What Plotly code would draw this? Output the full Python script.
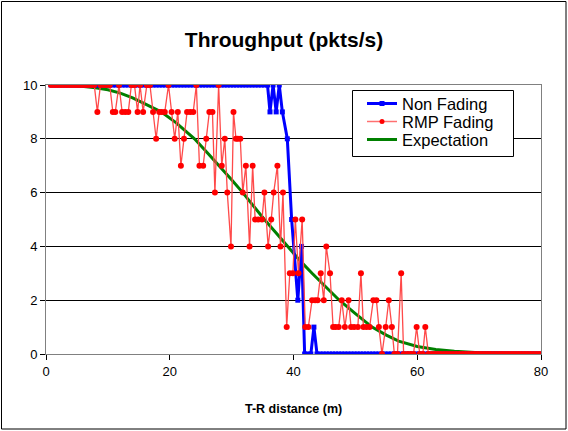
import plotly.graph_objects as go

# ---------------- data ----------------
nonfading_x = [0.8, 1.3, 1.8, 2.3, 2.8, 3.3, 3.8, 4.3, 4.8, 5.3, 5.8, 6.3, 6.8, 7.3, 7.8,
               8.3, 8.8, 9.3, 9.8, 10.3, 10.8, 11.3, 11.8, 12.3, 12.8, 13.3, 13.8, 14.3, 14.8, 15.3,
               15.8, 16.3, 16.8, 17.3, 17.8, 18.3, 18.8, 19.3, 19.8, 20.3, 20.8, 21.3, 21.8, 22.3,
               22.8, 23.3, 23.8, 24.3, 24.8, 25.3, 25.8, 26.3, 26.8, 27.3, 27.8, 28.3, 28.8, 29.3,
               29.8, 30.3, 30.8, 31.3, 31.8, 32.3, 32.8, 33.3, 33.8, 34.3, 34.8, 35.3, 35.8,
               36.2, 36.7, 37.2, 37.7, 38.2, 39.0, 39.7, 40.7, 41.3, 41.8, 42.3, 42.8, 43.3, 43.8,
               44.3, 44.8, 45.3, 45.8, 46.3, 46.8, 47.3, 47.8, 48.3, 48.8, 49.3, 49.8, 50.3, 50.8,
               51.3, 51.8, 52.3, 52.8, 53.3, 53.8, 54.3, 54.8, 55.3, 55.8, 56.3, 56.8, 57.3, 57.8,
               58.3, 58.8, 59.3, 59.8, 60.3, 60.8, 61.3, 61.8, 62.3, 62.8, 63.3, 63.8, 64.3, 64.8,
               65.3, 65.8, 66.3, 66.8, 67.3, 67.8, 68.3, 68.8, 69.3, 69.8, 70.3, 70.8, 71.3, 71.8,
               72.3, 72.8, 73.3, 73.8, 74.3, 74.8, 75.3, 75.8, 76.3, 76.8, 77.3, 77.8, 78.3, 78.8,
               79.3, 79.8]
nonfading_y = [10, 10, 10, 10, 10, 10, 10, 10, 10, 10, 10, 10, 10, 10, 10,
               10, 10, 10, 10, 10, 10, 10, 10, 10, 10, 10, 10, 10, 10, 10,
               10, 10, 10, 10, 10, 10, 10, 10, 10, 10, 10, 10, 10, 10,
               10, 10, 10, 10, 10, 10, 10, 10, 10, 10, 10, 10, 10, 10,
               10, 10, 10, 10, 10, 10, 10, 10, 10, 10, 10, 10, 10,
               9, 10, 9, 10, 9, 8, 5, 2, 4, 0, 0, 0, 1, 0,
               0, 0, 0, 0, 0, 0, 0, 0, 0, 0, 0, 0, 0, 0,
               0, 0, 0, 0, 0, 0, 0, 0, 0, 0, 0, 0, 0, 0,
               0, 0, 0, 0, 0, 0, 0, 0, 0, 0, 0, 0, 0, 0,
               0, 0, 0, 0, 0, 0, 0, 0, 0, 0, 0, 0, 0, 0,
               0, 0, 0, 0, 0, 0, 0, 0, 0, 0, 0, 0, 0, 0,
               0, 0]

rmp_x = [0.8, 1.3, 1.8, 2.3, 2.8, 3.3, 3.8, 4.3, 4.8, 5.3, 5.8, 6.3, 6.8, 7.3, 7.8,
         8.3, 8.8, 9.3, 9.8, 10.3, 10.8, 11.2, 11.8, 12.3, 12.8, 13.3, 13.8, 14.3, 14.8, 15.2, 15.7,
         16.3, 16.8, 17.3, 17.8, 18.3, 18.7, 19.2, 19.8, 20.3, 20.8, 21.3, 21.8, 22.3, 22.8, 23.3, 23.8,
         24.3, 24.8, 25.4, 25.9, 26.4, 26.9, 27.3, 27.9, 28.4, 28.9, 29.3, 29.9, 30.3, 30.7, 31.0, 31.4,
         31.8, 32.3, 32.9, 33.4, 33.8, 34.3, 34.9, 35.3, 35.9, 36.4, 36.8, 37.4, 37.9, 38.3, 38.9,
         39.4, 39.9, 40.3, 40.8, 41.4, 41.9, 42.4, 43.0, 43.5, 43.9, 44.4, 44.9, 45.3, 45.9,
         46.4, 46.8, 47.3, 47.8, 48.3, 48.9, 49.3, 49.8, 50.4, 50.9, 51.3, 51.8, 52.3, 52.9, 53.4, 53.8,
         54.3, 54.9, 55.4, 55.9, 56.3, 56.8, 57.4, 57.8, 58.4, 58.9, 59.4, 59.9, 60.4, 60.9, 61.3, 61.8,
         62.3, 62.8, 63.3, 63.8, 64.3, 64.8, 65.3, 65.8, 66.3, 66.8, 67.3, 67.8, 68.3, 68.8, 69.3, 69.8,
         70.3, 70.8, 71.3, 71.8, 72.3, 72.8, 73.3, 73.8, 74.3, 74.8, 75.3, 75.8, 76.3, 76.8, 77.3, 77.8,
         78.3, 78.8, 79.3, 79.8]
rmp_y = [10, 10, 10, 10, 10, 10, 10, 10, 10, 10, 10, 10, 10, 10, 10,
         9, 10, 10, 10, 10, 9, 9, 10, 9, 9, 9, 10, 10, 9, 10, 9,
         10, 10, 9, 8, 9, 9, 9, 10, 9, 8, 9, 7, 8, 9, 9, 9,
         10, 7, 7, 8, 9, 9, 6, 10, 7, 8, 6, 4, 9, 8, 8, 8,
         6, 7, 4, 7, 5, 5, 5, 6, 4, 5, 6, 7, 4, 6, 1,
         3, 3, 5, 3, 5, 1, 1, 2, 2, 2, 3, 2, 4, 3,
         1, 1, 1, 2, 1, 2, 1, 1, 1, 3, 1, 1, 1, 2, 2, 1,
         0, 1, 2, 1, 0, 0, 3, 0, 0, 0, 0, 1, 0, 0, 1, 0,
         0, 0, 0, 0, 0, 0, 0, 0, 0, 0, 0, 0, 0, 0, 0, 0,
         0, 0, 0, 0, 0, 0, 0, 0, 0, 0, 0, 0, 0, 0, 0, 0,
         0, 0, 0, 0]

expect_x = [0.8, 5, 8, 10, 12, 14, 16, 18.6, 21, 24, 26, 28, 30, 31.8, 33.5, 35.3, 37.2, 39,
            41, 43, 45, 47.4, 50, 52.7, 55, 57, 60, 63, 66, 70, 75, 79.8]
expect_y = [10.0, 9.97, 9.9, 9.82, 9.7, 9.52, 9.3, 9.0, 8.6, 8.0, 7.5, 7.0, 6.48, 6.0, 5.5, 5.0,
            4.5, 4.0, 3.48, 3.0, 2.55, 2.0, 1.5, 1.0, 0.7, 0.48, 0.28, 0.17, 0.1, 0.05, 0.02, 0.01]

x_ticks = [0, 20, 40, 60, 80]
y_ticks = [0, 2, 4, 6, 8, 10]
series_names = ["Non Fading", "RMP Fading", "Expectation"]

FONT = "Liberation Sans, Arial, sans-serif"
BLUE, RED_LINE, RED_MK, GREEN = "#0000FF", "#FF4A4A", "#FF0000", "#008000"

# plot-area geometry (pixels)
L, R, T, B = 46, 27, 85, 77
W, H = 568, 431
PW, PH = W - L - R, H - T - B


def px(xp):
    return (xp - L) / PW


def py(yp):
    return (H - B - yp) / PH


fig = go.Figure()
fig.add_trace(go.Scatter(x=expect_x, y=expect_y, name=series_names[2], mode="lines",
                         line=dict(color=GREEN, width=3), showlegend=False))
fig.add_trace(go.Scatter(x=nonfading_x, y=nonfading_y, name=series_names[0], mode="lines+markers",
                         line=dict(color=BLUE, width=3),
                         marker=dict(symbol="square", size=5, color=BLUE), showlegend=False))
fig.add_trace(go.Scatter(x=rmp_x, y=rmp_y, name=series_names[1], mode="lines+markers",
                         line=dict(color=RED_LINE, width=1.3),
                         marker=dict(symbol="circle", size=6, color=RED_MK), showlegend=False))

# ---- legend drawn by hand (Excel-like compact box) ----
shapes = [dict(type="rect", xref="paper", yref="paper",
               x0=px(1.5), x1=px(566), y0=py(429), y1=py(1.5),
               line=dict(color="black", width=1), fillcolor="rgba(0,0,0,0)", layer="above"),
          dict(type="rect", xref="paper", yref="paper",
               x0=px(352.5), x1=px(513.5), y0=py(156.5), y1=py(90.5),
               line=dict(color="black", width=1), fillcolor="white", layer="above")]
annotations = []
rows = [103.5, 121.5, 139.5]
styles = [(BLUE, 3, "square"), ("#FF7070", 1.5, "circle"), (GREEN, 3, None)]
for name, yrow, (col, lw, mk) in zip(series_names, rows, styles):
    shapes.append(dict(type="line", xref="paper", yref="paper",
                       x0=px(367), x1=px(397), y0=py(yrow), y1=py(yrow),
                       line=dict(color=col, width=lw), layer="above"))
    if mk == "square":
        shapes.append(dict(type="rect", xref="paper", yref="paper",
                           x0=px(379.5), x1=px(384.5), y0=py(yrow + 2.5), y1=py(yrow - 2.5),
                           line=dict(width=0), fillcolor=BLUE, layer="above"))
    elif mk == "circle":
        shapes.append(dict(type="circle", xref="paper", yref="paper",
                           x0=px(379.5), x1=px(384.5), y0=py(yrow + 2.5), y1=py(yrow - 2.5),
                           line=dict(width=0), fillcolor=RED_MK, layer="above"))
    annotations.append(dict(text=name, x=px(400), y=py(yrow), xref="paper", yref="paper",
                            xanchor="left", yanchor="middle", showarrow=False,
                            font=dict(family=FONT, size=16.5, color="black")))

annotations.append(dict(text="<b>T-R distance (m)</b>", x=0.5, xref="paper",
                        y=py(409), yref="paper", xanchor="center", yanchor="middle",
                        showarrow=False, font=dict(family=FONT, size=12.5, color="black")))

fig.update_layout(
    width=W, height=H,
    margin=dict(l=L, r=R, t=T, b=B),
    paper_bgcolor="white", plot_bgcolor="white",
    font=dict(family=FONT, color="black", size=13),
    title=dict(text="<b>Throughput (pkts/s)</b>", x=284 / W, xref="container", xanchor="center",
               y=1 - 40 / H, yref="container", yanchor="middle",
               font=dict(family=FONT, size=21, color="black")),
    showlegend=False,
    xaxis=dict(range=[0, 80], tickvals=x_ticks, showgrid=False, zeroline=False,
               showline=True, linecolor="#808080", linewidth=1, mirror=True,
               ticks="outside", ticklen=5, tickcolor="black",
               tickfont=dict(family=FONT, size=13, color="black")),
    yaxis=dict(range=[0, 10], tickvals=y_ticks, showgrid=True, gridcolor="black", gridwidth=1,
               zeroline=False, showline=True, linecolor="#808080", linewidth=1, mirror=True,
               ticks="outside", ticklen=5, tickcolor="black",
               tickfont=dict(family=FONT, size=13, color="black")),
    annotations=annotations,
    shapes=shapes,
)

fig.write_html("out.html")
